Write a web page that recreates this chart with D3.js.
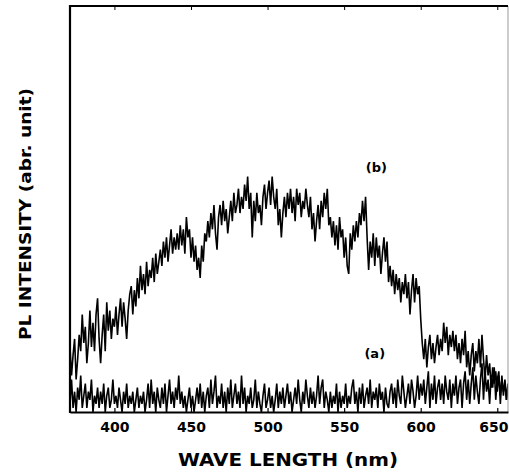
<!DOCTYPE html>
<html>
<head>
<meta charset="utf-8">
<script src="https://cdn.jsdelivr.net/npm/d3@7"></script>
<style>
  body { margin: 0; background: #fff; }
  svg { display: block; }
  text { font-family: "DejaVu Sans", sans-serif; font-weight: bold; fill: #000; }
</style>
</head>
<body>
<svg id="chart" width="509" height="472"></svg>
<script>
// wavelength axis, one sample per nm
const waveStart = 371;
const waveStep = 1;
const xTicks = [400, 450, 500, 550, 600, 650];

// (a) - flat noisy baseline
const seriesA = [
  2, 8, 1, 5, 0, 6, 3, 9, 1, 4,
  7, 1, 5, 3, 8, 0, 4, 2, 6, 1,
  5, 2, 7, 0, 4, 6, 1, 3, 8, 2,
  4, 1, 6, 3, 0, 5, 2, 7, 1, 4,
  2, 5, 0, 3, 6, 1, 4, 2, 5, 0,
  3, 7, 1, 8, 2, 5, 0, 6, 3, 1,
  6, 2, 7, 0, 4, 8, 2, 5, 1, 6,
  3, 9, 2, 5, 1, 4, 0, 3, 6, 1,
  4, 0, 3, 6, 2, 7, 1, 5, 0, 4,
  6, 1, 8, 2, 5, 9, 1, 4, 2, 7,
  1, 5, 0, 6, 2, 8, 1, 4, 7, 2,
  5, 1, 9, 2, 6, 0, 4, 2, 6, 1,
  3, 8, 1, 5, 2, 0, 4, 7, 1, 3,
  6, 1, 4, 0, 3, 7, 1, 5, 2, 6,
  1, 4, 7, 2, 5, 0, 3, 6, 2, 8,
  3, 0, 5, 2, 8, 4, 1, 6, 2, 5,
  1, 4, 9, 2, 6, 8, 1, 5, 3, 0,
  5, 1, 4, 2, 7, 0, 5, 1, 4, 2,
  7, 1, 4, 2, 6, 8, 2, 5, 0, 6,
  2, 7, 1, 4, 6, 2, 8, 1, 5, 3,
  6, 1, 7, 3, 5, 0, 6, 2, 1, 5,
  7, 2, 6, 1, 8, 4, 2, 9, 5, 1,
  4, 7, 2, 8, 5, 1, 4, 9, 3, 7,
  4, 8, 2, 6, 10, 1, 7, 3, 9, 2,
  6, 8, 3, 7, 2, 9, 5, 3, 8, 1,
  7, 4, 9, 2, 6, 8, 1, 7, 10, 3,
  8, 2, 7, 11, 3, 9, 5, 2, 8, 12,
  3, 10, 5, 8, 2, 9, 6, 11, 3, 8,
  10, 2, 9, 4, 8, 3, 7
];

// (b) - broad emission band
const seriesB = [
  16, 9, 14, 18, 8, 13, 19, 15, 24, 17,
  21, 12, 17, 25, 16, 22, 15, 24, 28, 18,
  12, 19, 24, 15, 27, 20, 25, 18, 23, 21,
  26, 19, 24, 28, 21, 27, 23, 18, 25, 29,
  31, 24, 30, 26, 33, 28, 36, 30, 34, 29,
  37, 31, 35, 33, 38, 32, 39, 34, 37, 40,
  36, 42, 38, 43, 37, 41, 45, 39, 43, 40,
  44, 40, 46, 41, 45, 39, 48, 43, 45, 38,
  43, 37, 41, 35, 38, 33, 41, 37, 44, 42,
  47, 43, 49, 45, 51, 44, 40, 48, 51, 46,
  52, 47, 50, 44, 48, 52, 47, 54, 49, 51,
  55, 49, 53, 50, 56, 52, 58, 50, 54, 43,
  52, 47, 54, 49, 51, 46, 53, 56, 50, 54,
  57, 51, 58, 53, 50, 55, 46, 50, 43, 49,
  53, 48, 54, 50, 55, 49, 53, 47, 55, 51,
  54, 48, 52, 50, 55, 51, 48, 53, 45, 49,
  42, 47, 51, 45, 52, 48, 54, 50, 55, 46,
  48, 43, 47, 41, 46, 40, 48, 43, 45, 38,
  43, 36, 34, 44, 40, 46, 42, 47, 43, 49,
  46, 52, 47, 53, 43, 35, 42, 38, 44, 36,
  43, 38, 41, 34, 39, 43, 37, 42, 32, 36,
  31, 35, 29, 34, 30, 33, 27, 32, 29, 34,
  28, 32, 24, 30, 34, 27, 33, 29, 31, 23,
  17, 13, 18, 11, 16, 19, 13, 17, 12, 16,
  19, 14, 18, 15, 22, 17, 21, 14, 19, 16,
  20, 15, 19, 13, 17, 12, 18, 14, 20, 11,
  15, 9, 14, 17, 10, 15, 12, 18, 11, 19,
  13, 8, 14, 9, 12, 6, 11, 7, 10, 5,
  9, 4, 8, 5, 7, 3, 6
];

const curveLabels = ["(b)", "(a)"];
const labelWave = [571, 570];
const labelLevel = [59, 13.3];

const svg = d3.select("#chart");
const plotLeft = 70, plotRight = 508, plotTop = 6, plotBottom = 412;

const x = d3.scaleLinear().domain([371, 657]).range([plotLeft, plotRight]);
const y = d3.scaleLinear().domain([0, 100]).range([plotBottom, plotTop]);

// clip curves to the frame
svg.append("clipPath").attr("id", "frame")
    .append("rect")
    .attr("x", plotLeft).attr("y", plotTop)
    .attr("width", plotRight - plotLeft).attr("height", plotBottom - plotTop);

const plot = svg.append("g");

const line = d3.line()
    .x((d, i) => x(waveStart + i * waveStep))
    .y((d) => y(d));

[seriesA, seriesB].forEach((s) => {
    plot.append("path")
        .datum(s)
        .attr("clip-path", "url(#frame)")
        .attr("d", line)
        .attr("fill", "none")
        .attr("stroke", "#000")
        .attr("stroke-width", 1.6);
});

// frame: heavy left, top and bottom, thin grey right
svg.append("line").attr("x1", plotRight).attr("x2", plotRight).attr("y1", plotTop).attr("y2", plotBottom)
    .attr("stroke", "#999").attr("stroke-width", 1);
svg.append("line").attr("x1", plotLeft).attr("x2", plotRight).attr("y1", plotTop).attr("y2", plotTop)
    .attr("stroke", "#000").attr("stroke-width", 2.2);
svg.append("line").attr("x1", plotLeft).attr("x2", plotLeft).attr("y1", plotTop - 1).attr("y2", plotBottom + 1)
    .attr("stroke", "#000").attr("stroke-width", 2.2);

const xAxis = svg.append("g")
    .attr("transform", `translate(0,${plotBottom})`)
    .call(d3.axisBottom(x).tickValues(xTicks).tickSize(-4).tickPadding(10).tickSizeOuter(0));
xAxis.select(".domain").attr("stroke", "#000").attr("stroke-width", 2.2);
xAxis.selectAll(".tick line").attr("stroke-width", 1.2);
xAxis.selectAll("text")
    .style("font-size", "14px")
    .style("font-family", "DejaVu Sans, sans-serif")
    .style("font-weight", "bold")
    .attr("fill", "#000");
// keep the last label inside the picture
xAxis.selectAll("text")
    .filter((d) => d === 650)
    .attr("text-anchor", "end")
    .attr("dx", plotRight - x(650));

// small inward ticks along the top
svg.append("g")
    .attr("transform", `translate(0,${plotTop})`)
    .call(d3.axisTop(x).tickValues(xTicks).tickSize(-4).tickFormat("").tickSizeOuter(0))
    .call((g) => g.select(".domain").remove());

// axis titles
svg.append("text")
    .attr("x", 288).attr("y", 466)
    .attr("text-anchor", "middle")
    .attr("textLength", 220).attr("lengthAdjust", "spacingAndGlyphs")
    .style("font-size", "18px")
    .text("WAVE LENGTH (nm)");

svg.append("text")
    .attr("transform", "translate(31,214) rotate(-90)")
    .attr("text-anchor", "middle")
    .attr("textLength", 252).attr("lengthAdjust", "spacingAndGlyphs")
    .style("font-size", "16px")
    .text("PL INTENSITY (abr. unit)");

// curve labels
svg.selectAll(".curve-label")
    .data(curveLabels)
    .enter()
    .append("text")
    .attr("class", "curve-label")
    .attr("x", (d, i) => x(labelWave[i]))
    .attr("y", (d, i) => y(labelLevel[i]))
    .attr("text-anchor", "middle")
    .style("font-size", "13px")
    .text((d) => d);
</script>
</body>
</html>
